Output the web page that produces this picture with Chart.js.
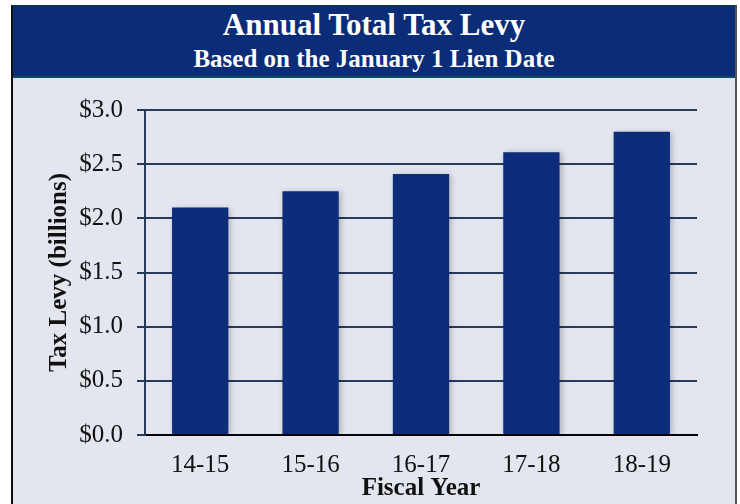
<!DOCTYPE html>
<html>
<head>
<meta charset="utf-8">
<script src="https://cdn.jsdelivr.net/npm/chart.js@4"></script>
<style>
  html, body { margin: 0; padding: 0; background: #fff; width: 740px; height: 504px; overflow: hidden; }
  #frame {
    position: absolute; left: 11px; top: 5px; width: 722px; height: 510px;
    border-left: 2px solid #111; border-right: 2px solid #555; border-top: 1px solid #0b3a40;
    background: #e3e6ee;
  }
  #head {
    height: 70px; background: #0b2c77; border-bottom: 2px solid #0c4d5c;
    color: #fff; text-align: center; font-family: "Liberation Serif", serif; font-weight: bold;
  }
  #head .t1 { font-size: 31px; line-height: 38px; }
  #head .t2 { font-size: 25px; line-height: 30px; }
  #wrap { position: absolute; left: 0; top: 72px; width: 722px; height: 426px; }
</style>
</head>
<body>
<div id="frame">
  <div id="head">
    <div class="t1">Annual Total Tax Levy</div>
    <div class="t2">Based on the January 1 Lien Date</div>
  </div>
  <div id="wrap"><canvas id="grafico"></canvas></div>
</div>
<script>
const anos = ['14-15', '15-16', '16-17', '17-18', '18-19'];
const levy = [2.10, 2.25, 2.41, 2.61, 2.80];
const yMax = 3.0;
const yStep = 0.5;

const FONT = '"Liberation Serif", serif';

// leve sombra nas barras
const sombra = {
  id: 'sombra',
  beforeDatasetsDraw(chart) {
    const ctx = chart.ctx;
    ctx.save();
    ctx.shadowColor = 'rgba(0,0,0,0.25)';
    ctx.shadowBlur = 6;
    ctx.shadowOffsetX = 2;
    ctx.shadowOffsetY = 1;
  },
  afterDatasetsDraw(chart) { chart.ctx.restore(); }
};

new Chart(document.getElementById('grafico'), {
  type: 'bar',
  data: {
    labels: anos,
    datasets: [{
      data: levy,
      backgroundColor: '#0d2c79',
      borderWidth: 0,
      barPercentage: 0.51,
      categoryPercentage: 1
    }]
  },
  options: {
    responsive: true,
    maintainAspectRatio: false,
    animation: false,
    layout: { padding: { left: 0, right: 38, top: 32, bottom: 0 } },
    plugins: { legend: { display: false }, tooltip: { enabled: false } },
    scales: {
      x: {
        grid: { display: false, drawTicks: false },
        border: { color: '#000', width: 2 },
        ticks: { color: '#111', font: { family: FONT, size: 25 }, padding: 15 },
        title: { display: true, text: 'Fiscal Year', color: '#111',
                 font: { family: FONT, size: 25, weight: 'bold' }, padding: { top: 0, bottom: 0 } },
        afterFit: s => { s.height = 69; }
      },
      y: {
        min: 0, max: yMax,
        grid: { color: '#29395a', lineWidth: 2, tickLength: 8 },
        border: { color: '#29395a', width: 2 },
        ticks: { stepSize: yStep, color: '#111', font: { family: FONT, size: 25 }, padding: 14,
                 callback: v => '$' + v.toFixed(1) },
        title: { display: true, text: 'Tax Levy (billions)', color: '#111',
                 font: { family: FONT, size: 25, weight: 'bold' }, padding: { top: 32, bottom: 0 } },
        afterFit: s => { s.width = 132; }
      }
    }
  },
  plugins: [sombra]
});
</script>
</body>
</html>
